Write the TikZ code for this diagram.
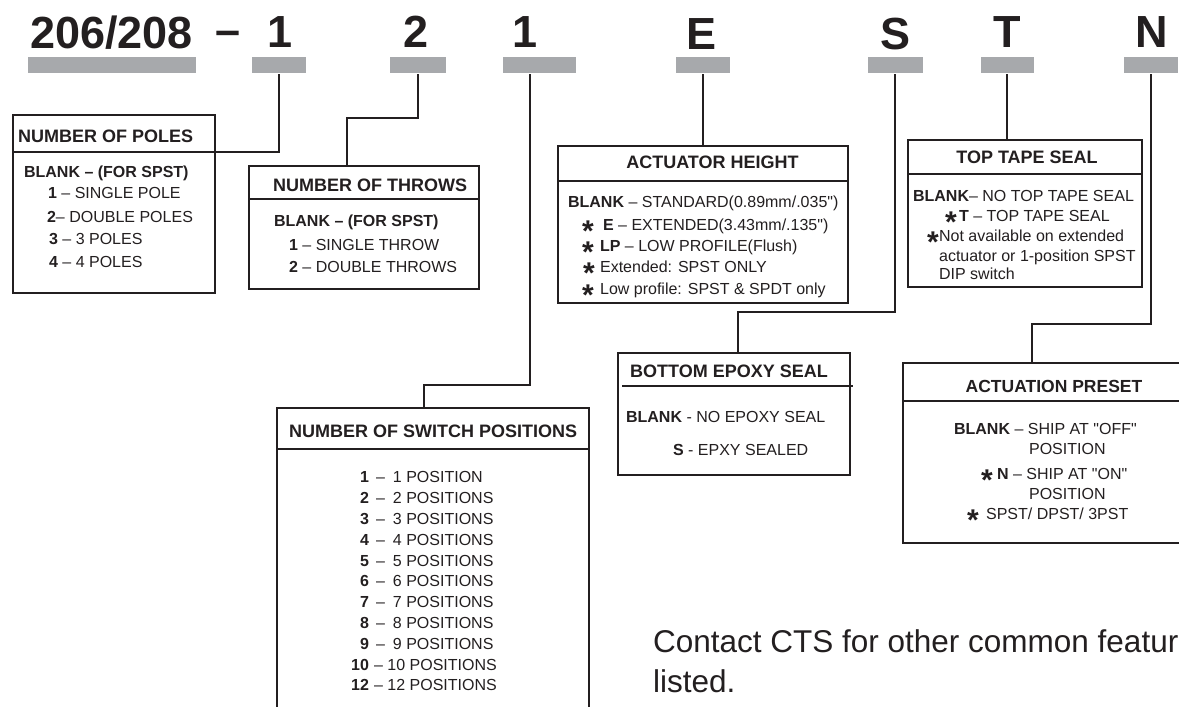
\documentclass[tikz,border=0pt]{standalone}
\usepackage{fontspec}
\setmainfont{Liberation Sans}
\definecolor{ink}{RGB}{35,31,32}
\definecolor{barc}{RGB}{167,169,172}
\newcommand{\stmark}{\makebox[10pt][l]{\raisebox{-11pt}[0pt][0pt]{\fontsize{30}{30}\selectfont\bfseries *}}}
\newcommand{\qq}{\textquotedbl}
\begin{document}
\begin{tikzpicture}[x=1pt,y=-1pt,color=ink,line width=2.2pt,
  code/.style={font=\fontsize{45}{45}\selectfont\bfseries, inner sep=0pt, anchor=base},
  bar/.style={fill=barc, minimum height=16pt, inner sep=0pt},
  box/.style={draw, anchor=north west, inner sep=0pt},
  title/.style={font=\fontsize{18}{18}\selectfont\bfseries, inner sep=0pt, anchor=base west},
  body/.style={font=\fontsize{16}{16}\selectfont, inner sep=0pt, anchor=base west}]
\useasboundingbox (0,0) rectangle (1179,707);
\clip (0,0) rectangle (1179,707);
\fill[white] (0,0) rectangle (1179,707);
% part number
\node[code] (hd0) at (111.5,48) {206/208};
\node[code] (hddash) at (228.5,45) {–};
\node[code] (hd1) at (280,47) {1};
\node[code] (hd2) at (416,47) {2};
\node[code] (hd3) at (525,47) {1};
\node[code] (hdE) at (701.5,49) {E};
\node[code] (hdS) at (895.5,49) {S};
\node[code] (hdT) at (1007.5,47) {T};
\node[code] (hdN) at (1152,47) {N};
\node[bar, minimum width=168pt] (bar0) at (112,65){};
\node[bar, minimum width=54pt] (bar1) at (279,65){};
\node[bar, minimum width=56pt] (bar2) at (418,65){};
\node[bar, minimum width=73pt] (bar3) at (539.5,65){};
\node[bar, minimum width=54pt] (barE) at (703,65){};
\node[bar, minimum width=55pt] (barS) at (895,65){};
\node[bar, minimum width=53pt] (barT) at (1007,65){};
\node[bar, minimum width=54pt] (barN) at (1151,65){};
% boxes
\node[box, minimum width=202pt, minimum height=178pt] (poles) at (12,114){};
\node[box, minimum width=230pt, minimum height=123pt] (throws) at (248,165){};
\node[box, minimum width=290pt, minimum height=157pt] (actuator) at (557,145){};
\node[box, minimum width=234pt, minimum height=147pt] (toptape) at (907,139){};
\node[box, minimum width=232pt, minimum height=122pt] (epoxy) at (617,352){};
\node[box, minimum width=300pt, minimum height=180pt] (actuation) at (902,362){};
\node[box, minimum width=312pt, minimum height=320pt] (switchpos) at (276,407){};
\draw ([yshift=-38pt]poles.north west) -- ([yshift=-38pt]poles.north east);
\draw ([yshift=-34pt]throws.north west) -- ([yshift=-34pt]throws.north east);
\draw ([yshift=-36pt]actuator.north west) -- ([yshift=-36pt]actuator.north east);
\draw ([yshift=-35pt]toptape.north west) -- ([yshift=-35pt]toptape.north east);
\draw ([xshift=5pt,yshift=-34pt]epoxy.north west) -- ([xshift=2pt,yshift=-34pt]epoxy.north east);
\draw ([yshift=-39pt]actuation.north west) -- ([yshift=-39pt]actuation.north east);
\draw ([yshift=-42pt]switchpos.north west) -- ([yshift=-42pt]switchpos.north east);
% connectors
\coordinate (j2) at (347,118);
\coordinate (j3) at (424,385);
\coordinate (jS) at (738,312);
\coordinate (jN) at (1032,324);
\draw (bar1.south) |- ([yshift=-38pt]poles.north east);
\draw (bar2.south) |- (j2) -- (throws.north -| j2);
\draw ([xshift=-9.5pt]bar3.south) |- (j3) -- (switchpos.north -| j3);
\draw (barE.south) -- (actuator.north -| barE.south);
\draw (barS.south) |- (jS) -- (epoxy.north -| jS);
\draw (barT.south) -- (toptape.north -| barT.south);
\draw (barN.south) |- (jN) -- (actuation.north -| jN);
% number of poles
\node[title] (polesT) at (17,142.5) {NUMBER OF POLES};
\node[body] (poles0) at (23,177) {\bfseries BLANK – (FOR SPST)};
\node[body] (poles1) at (47,198) {\textbf{1} – SINGLE POLE};
\node[body] (poles2) at (46,222) {\textbf{2}– DOUBLE POLES};
\node[body] (poles3) at (48,244) {\textbf{3} – 3 POLES};
\node[body] (poles4) at (48,267) {\textbf{4} – 4 POLES};
% number of throws
\node[title] (throwsT) at (272,191.5) {NUMBER OF THROWS};
\node[body] (throws0) at (273,226) {\bfseries BLANK – (FOR SPST)};
\node[body] (throws1) at (288,250) {\textbf{1} – SINGLE THROW};
\node[body] (throws2) at (288,272) {\textbf{2} – DOUBLE THROWS};
% actuator height
\node[title, anchor=base] (actT) at (712.5,168.5) {ACTUATOR HEIGHT};
\node[body] (act0) at (567,207) {\textbf{BLANK} – STANDARD(0.89mm/.035\qq)};
\node[body] (act1) at (581,230) {\stmark\hspace{11pt}\textbf{E} – EXTENDED(3.43mm/.135\qq)};
\node[body] (act2) at (581,251) {\stmark\hspace{8pt}\textbf{LP} – LOW PROFILE(Flush)};
\node[body] (act3) at (582,272.5) {\stmark\hspace{7pt}Extended: SPST ONLY};
\node[body] (act4) at (581,294) {\stmark\hspace{8pt}Low profile: SPST \& SPDT only};
% top tape seal
\node[title, anchor=base] (tapeT) at (1027,163.5) {TOP TAPE SEAL};
\node[body] (tape0) at (912,201) {\textbf{BLANK}– NO TOP TAPE SEAL};
\node[body] (tape1) at (944,221) {\stmark\hspace{4pt}\textbf{T} – TOP TAPE SEAL};
\node[body] (tape2) at (926,241) {\stmark\hspace{2pt}Not available on extended};
\node[body] (tape3) at (938,261) {actuator or 1-position SPST};
\node[body] (tape4) at (938,279) {DIP switch};
% bottom epoxy seal
\node[title] (epoxyT) at (629,377.5) {BOTTOM EPOXY SEAL};
\node[body] (epoxy0) at (625,422) {\textbf{BLANK} - NO EPOXY SEAL};
\node[body] (epoxy1) at (672,455) {\textbf{S} - EPXY SEALED};
% actuation preset
\node[title, anchor=base, font=\fontsize{17.5}{17.5}\selectfont\bfseries] (presetT) at (1054,392.5) {ACTUATION PRESET};
\node[body] (preset0) at (953,434) {\textbf{BLANK} – SHIP AT \qq OFF\qq};
\node[body] (preset1) at (1028,454) {POSITION};
\node[body] (preset2) at (980,479) {\stmark\hspace{6pt}\textbf{N} – SHIP AT \qq ON\qq};
\node[body] (preset3) at (1028,499) {POSITION};
\node[body] (preset4) at (966,519) {\stmark\hspace{9pt}SPST/ DPST/ 3PST};
% number of switch positions
\node[title] (switchT) at (288,437.5) {NUMBER OF SWITCH POSITIONS};
\node[body, anchor=base east] (num1) at (370,482.8) {\bfseries 1};
\node[body] (pos1) at (374,482.8) {\hspace{1pt}–\hspace{8pt}1 POSITION};
\foreach \n in {2,...,9}{
  \node[body, anchor=base east] (num\n) at (370,482.8+20.8*\n-20.8) {\bfseries \n};
  \node[body] (pos\n) at (374,482.8+20.8*\n-20.8) {\hspace{1pt}–\hspace{8pt}\n{} POSITIONS};
}
\node[body, anchor=base east] (num10) at (370,670) {\bfseries 10};
\node[body] (pos10) at (373,670) {– 10 POSITIONS};
\node[body, anchor=base east] (num12) at (370,690.8) {\bfseries 12};
\node[body] (pos12) at (373,690.8) {– 12 POSITIONS};
% note
\node[body, font=\fontsize{31.5}{31.5}\selectfont] (note1) at (652,652) {Contact CTS for other common featur};
\node[body, font=\fontsize{31.5}{31.5}\selectfont] (note2) at (652,692) {listed.};
\end{tikzpicture}
\end{document}
